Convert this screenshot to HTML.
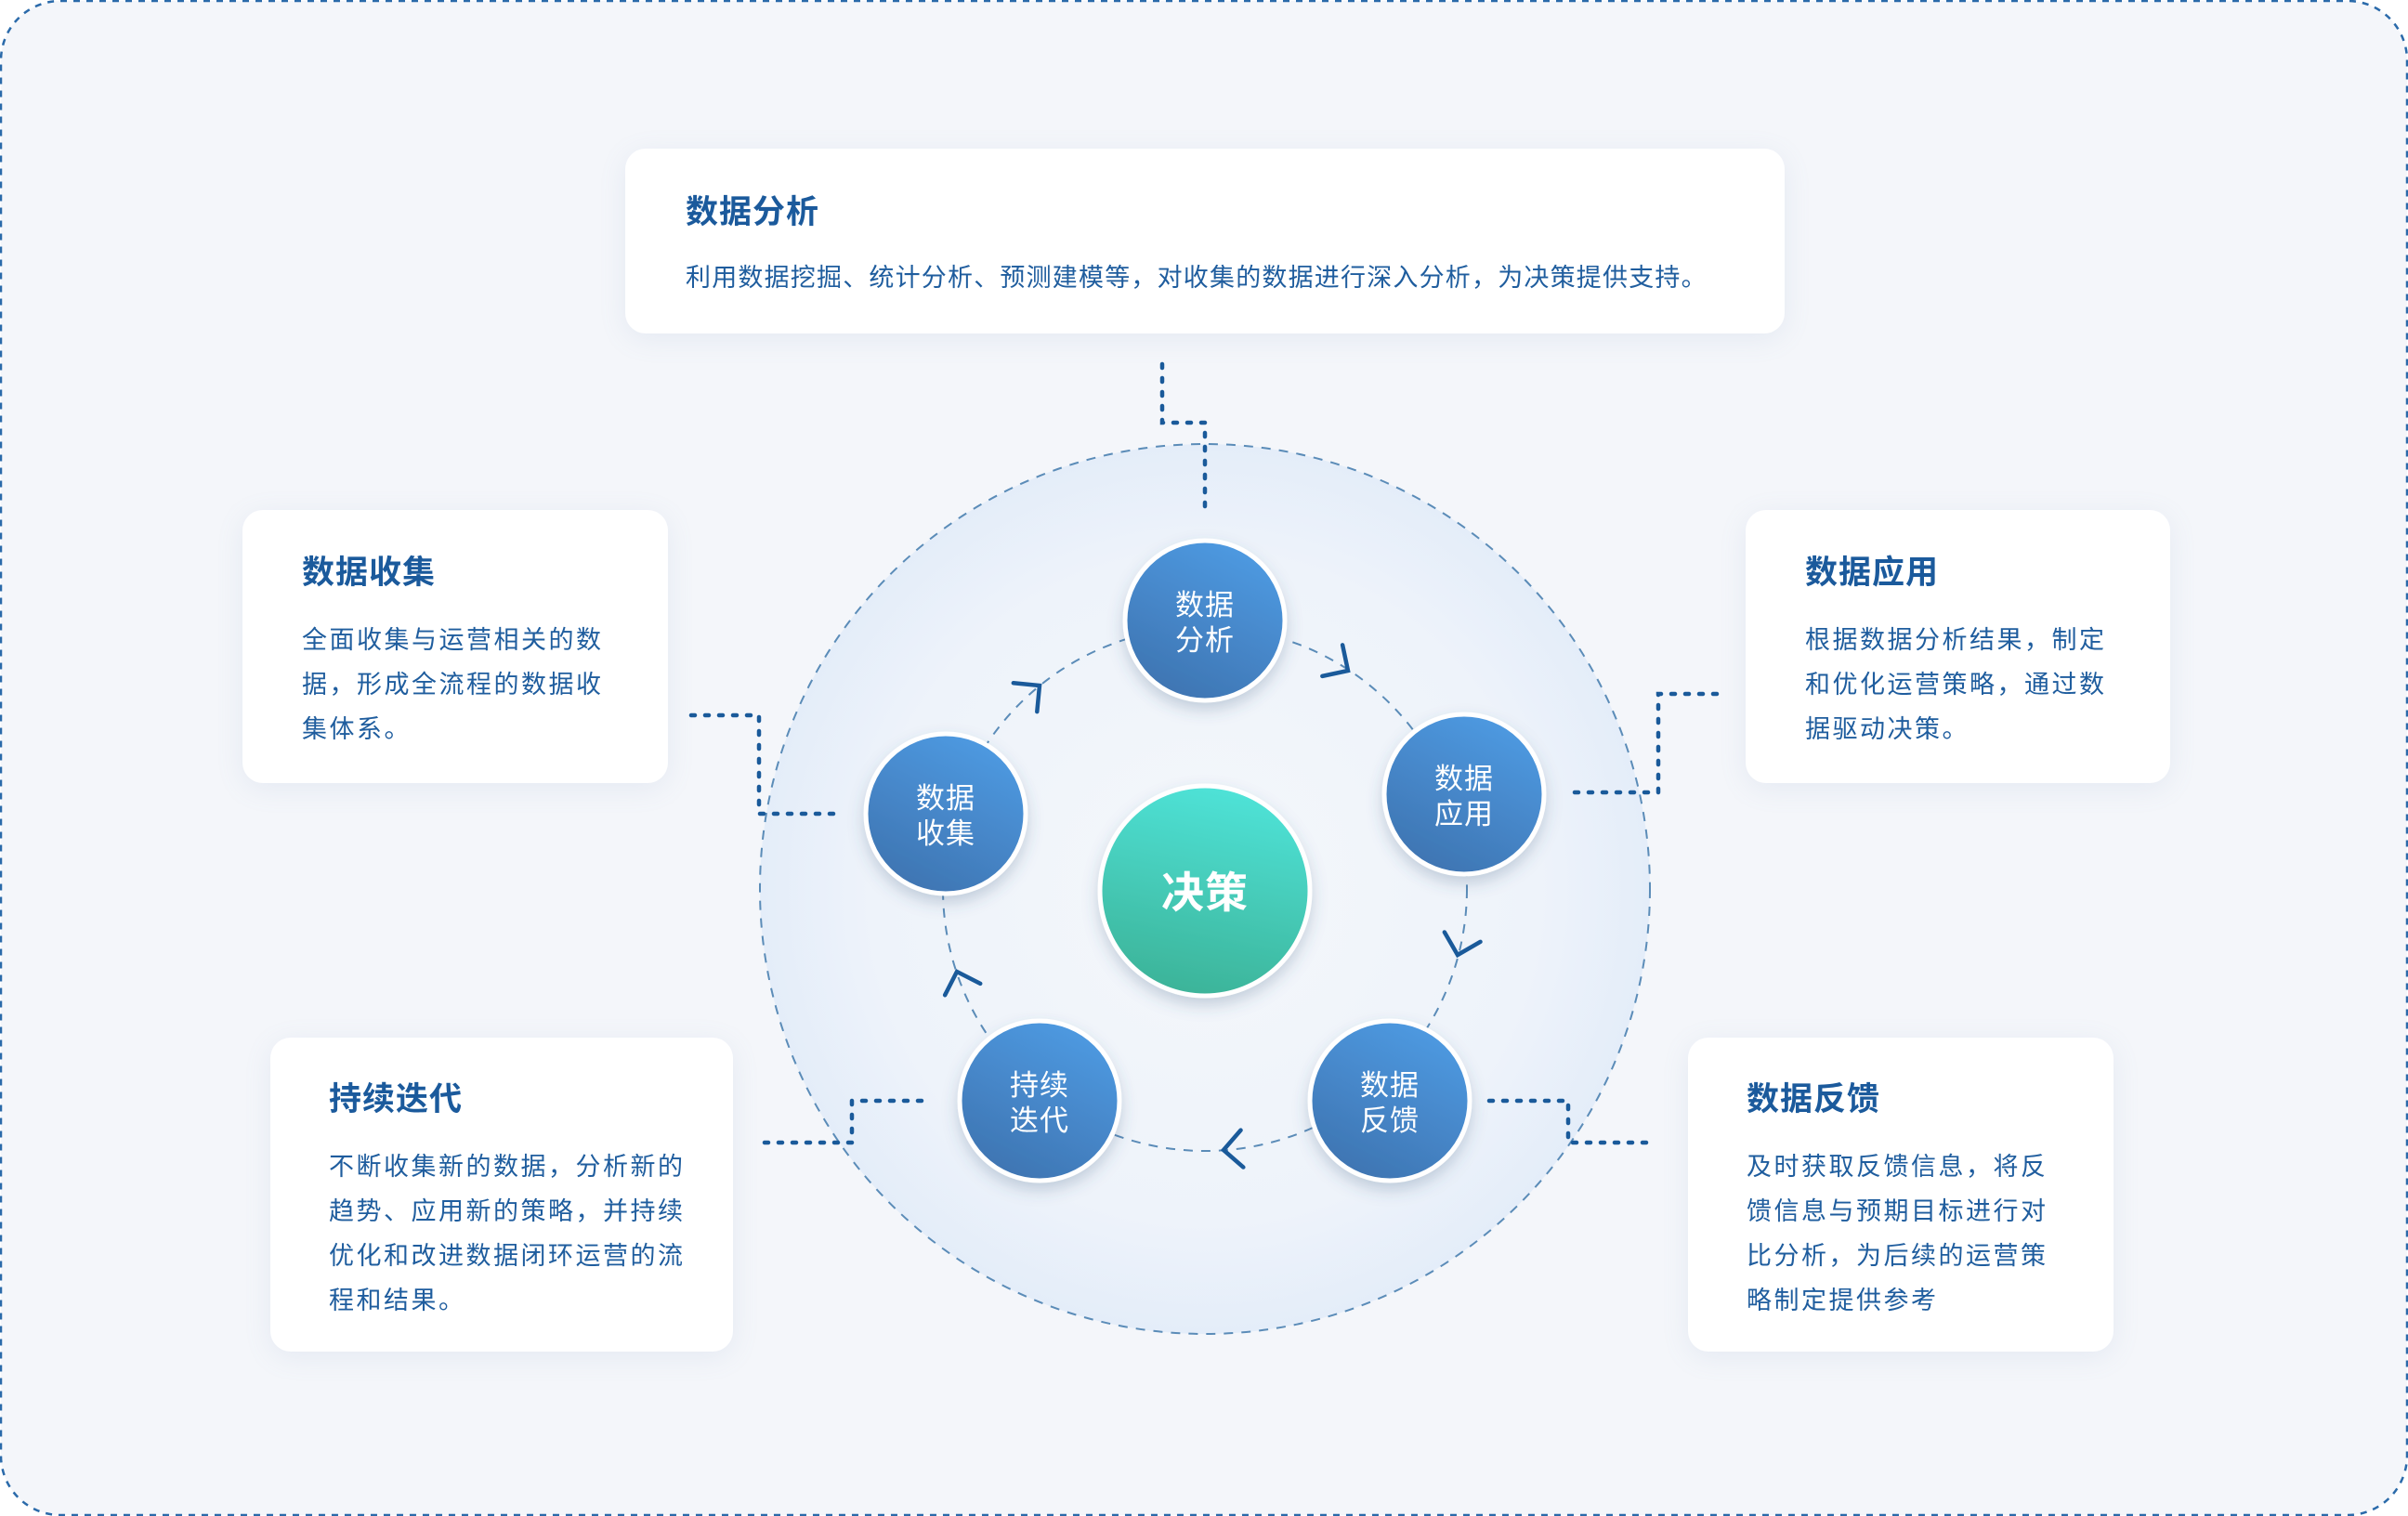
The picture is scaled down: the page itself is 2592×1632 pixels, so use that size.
<!DOCTYPE html>
<html><head><meta charset="utf-8">
<style>
html,body{margin:0;padding:0;}
body{width:2592px;height:1632px;position:relative;overflow:hidden;background:#fff;font-family:"Liberation Sans","Noto Sans CJK SC",sans-serif;}
.card{position:absolute;background:#fff;border-radius:22px;box-shadow:0 6px 30px rgba(120,150,190,0.12);}
.t{position:absolute;font-size:35px;font-weight:bold;color:#1b5a9c;line-height:50px;letter-spacing:1px;}
.b{position:absolute;font-size:27px;color:#1f5d9e;line-height:48px;letter-spacing:2.5px;white-space:nowrap;}
.n{position:absolute;color:#fff;font-size:31px;text-align:center;line-height:38px;letter-spacing:1px;}
</style></head><body>
<svg width="2592" height="1632" style="position:absolute;left:0;top:0">
<defs>
<radialGradient id="bg" cx="50%" cy="50%" r="50%">
<stop offset="0" stop-color="#f4f7fb"/><stop offset="0.75" stop-color="#eef3fa"/><stop offset="1" stop-color="#e4edf9"/>
</radialGradient>
<linearGradient id="ng" x1="0.8" y1="0" x2="0.3" y2="1">
<stop offset="0" stop-color="#4f9ce4"/><stop offset="1" stop-color="#3e74b1"/>
</linearGradient>
<linearGradient id="cg" x1="0.6" y1="0" x2="0.4" y2="1">
<stop offset="0" stop-color="#4fe3d8"/><stop offset="1" stop-color="#3cb398"/>
</linearGradient>
<filter id="sh" x="-30%" y="-30%" width="160%" height="160%"><feDropShadow dx="0" dy="8" stdDeviation="8" flood-color="#3a5a80" flood-opacity="0.25"/></filter>
</defs>
<rect x="1" y="1" width="2590" height="1630" rx="64" fill="#f4f6fa" stroke="#2a6aaa" stroke-width="2.5" stroke-dasharray="7 7"/>
<circle cx="1297" cy="957" r="479" fill="url(#bg)" stroke="#5b8cb8" stroke-width="2" stroke-dasharray="10 9"/>
<circle cx="1297" cy="957" r="282" fill="none" stroke="#5b8cb8" stroke-width="2" stroke-dasharray="10 9"/>
<g fill="none" stroke="#1a5a9a" stroke-width="4.5" stroke-linecap="round" stroke-dasharray="4 11">
<polyline points="1251,392 1251,455 1297,455 1297,549"/>
<polyline points="744,770 817,770 817,876 901,876"/>
<polyline points="1848,747 1785,747 1785,853 1694,853"/>
<polyline points="823,1230 917,1230 917,1185 1003,1185"/>
<polyline points="1603,1185 1688,1185 1688,1230 1779,1230"/>
</g>
<g fill="none" stroke="#1a5a9a" stroke-width="4.5" stroke-linecap="round" stroke-linejoin="miter">
<g transform="translate(1451,722) rotate(33)"><polyline points="-20,-20 0,0 -20,20"/></g>
<g transform="translate(1569,1028) rotate(105)"><polyline points="-20,-20 0,0 -20,20"/></g>
<g transform="translate(1317,1238) rotate(176)"><polyline points="-20,-20 0,0 -20,20"/></g>
<g transform="translate(1030,1046) rotate(252)"><polyline points="-20,-20 0,0 -20,20"/></g>
<g transform="translate(1119,738) rotate(-39.5)"><polyline points="-20,-20 0,0 -20,20"/></g>
</g>
<g filter="url(#sh)" stroke="#fff" stroke-width="5">
<circle cx="1297" cy="668" r="86" fill="url(#ng)"/>
<circle cx="1576" cy="855" r="86" fill="url(#ng)"/>
<circle cx="1496" cy="1185" r="86" fill="url(#ng)"/>
<circle cx="1119" cy="1185" r="86" fill="url(#ng)"/>
<circle cx="1018" cy="876" r="86" fill="url(#ng)"/>
<circle cx="1297" cy="959" r="113" fill="url(#cg)"/>
</g>
</svg>
<div class="n" style="left:1217px;top:633px;width:160px">数据<br>分析</div>
<div class="n" style="left:1496px;top:820px;width:160px">数据<br>应用</div>
<div class="n" style="left:1416px;top:1150px;width:160px">数据<br>反馈</div>
<div class="n" style="left:1039px;top:1150px;width:160px">持续<br>迭代</div>
<div class="n" style="left:938px;top:841px;width:160px">数据<br>收集</div>
<div class="n" style="left:1197px;top:936px;width:200px;font-size:46px;font-weight:bold;line-height:50px">决策</div>

<div class="card" style="left:673px;top:160px;width:1248px;height:199px">
<div class="t" style="left:65px;top:44px">数据分析</div>
<div class="b" style="left:65px;top:115px;letter-spacing:1.2px">利用数据挖掘、统计分析、预测建模等，对收集的数据进行深入分析，为决策提供支持。</div>
</div>
<div class="card" style="left:261px;top:549px;width:458px;height:294px">
<div class="t" style="left:64px;top:43px">数据收集</div>
<div class="b" style="left:64px;top:116px">全面收集与运营相关的数<br>据，形成全流程的数据收<br>集体系。</div>
</div>
<div class="card" style="left:1879px;top:549px;width:457px;height:294px">
<div class="t" style="left:64px;top:43px">数据应用</div>
<div class="b" style="left:64px;top:116px">根据数据分析结果，制定<br>和优化运营策略，通过数<br>据驱动决策。</div>
</div>
<div class="card" style="left:291px;top:1117px;width:498px;height:338px">
<div class="t" style="left:63px;top:42px">持续迭代</div>
<div class="b" style="left:63px;top:115px">不断收集新的数据，分析新的<br>趋势、应用新的策略，并持续<br>优化和改进数据闭环运营的流<br>程和结果。</div>
</div>
<div class="card" style="left:1817px;top:1117px;width:458px;height:338px">
<div class="t" style="left:63px;top:42px">数据反馈</div>
<div class="b" style="left:63px;top:115px">及时获取反馈信息，将反<br>馈信息与预期目标进行对<br>比分析，为后续的运营策<br>略制定提供参考</div>
</div>
</body></html>
